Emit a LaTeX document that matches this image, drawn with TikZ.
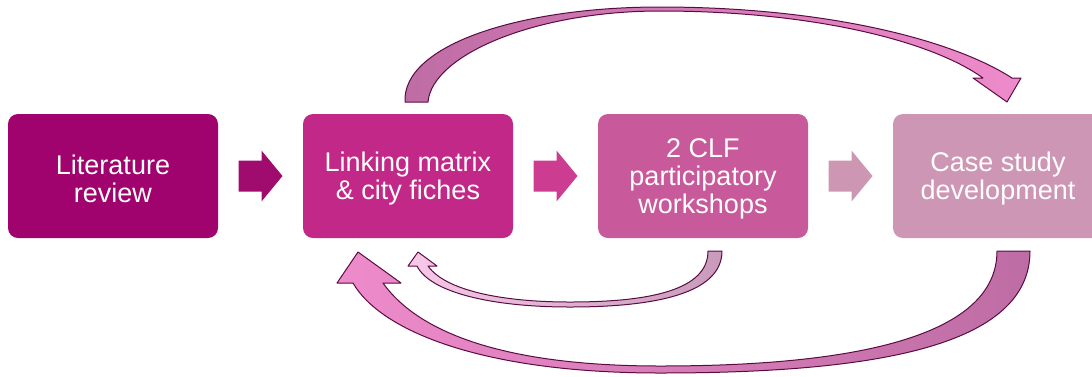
\documentclass[tikz,border=0pt]{standalone}
\usepackage{fontspec}
\setmainfont{Liberation Sans}
\usetikzlibrary{calc}

\definecolor{stepA}{HTML}{A0036E}
\definecolor{stepB}{HTML}{C12887}
\definecolor{stepC}{HTML}{C85A9B}
\definecolor{stepD}{HTML}{CD96B4}
\definecolor{arrA}{HTML}{A00C6E}
\definecolor{arrB}{HTML}{CC3C91}
\definecolor{arrC}{HTML}{CD97B4}
\definecolor{loopEdge}{HTML}{5A0B42}
\definecolor{loopDark}{HTML}{BE6DA4}
\definecolor{loopLight}{HTML}{EE8BCB}
\definecolor{loopGrey}{HTML}{C79BB9}
\definecolor{loopPale}{HTML}{F7C8E8}

\tikzset{
  stepbox/.style={rectangle, rounded corners=10pt, minimum width=210pt,
    minimum height=124pt, inner sep=0pt},
  steptext/.style={text=white, align=center, inner sep=0pt, yshift=-2.5pt,
    font=\fontsize{27}{28}\selectfont},
  loop/.style={draw=loopEdge, line width=1pt, line join=round},
  % block arrow centred on its position: shaft 31 wide, head 51 wide
  blockarrow/.pic={
    \fill (-22,-15.5) -- (1,-15.5) -- (1,-25.5) -- (22,0) -- (1,25.5)
      -- (1,15.5) -- (-22,15.5) -- cycle;
  }
}

\begin{document}
\begin{tikzpicture}[x=1pt, y=-1pt]
\useasboundingbox (0,0) rectangle (1092,376);

% process steps
\node[stepbox, fill=stepA, label={[steptext]center:Literature\\review}] (lit) at (113,176) {};
\node[stepbox, fill=stepB, label={[steptext]center:Linking matrix\\\& city fiches}] (link) at (408,176) {};
\node[stepbox, fill=stepC, label={[steptext]center:2 CLF\\participatory\\workshops}] (work) at (703,176) {};
\node[stepbox, fill=stepD, label={[steptext]center:Case study\\development}] (case) at (998,176) {};

% forward block arrows between steps
\coordinate (m1) at ($(lit.east)!0.5!(link.west)$);
\coordinate (m2) at ($(link.east)!0.5!(work.west)$);
\coordinate (m3) at ($(work.east)!0.5!(case.west)$);
\pic[fill=arrA] at (m1) {blockarrow};
\pic[fill=arrB] at (m2) {blockarrow};
\pic[fill=arrC] at (m3) {blockarrow};

% curved arrow over the top: linking matrix -> case study
\path[loop, left color=loopDark, right color=loopLight]
  (405,102) .. controls (402,45) and (520,7) .. (660,7)
  .. controls (820,7) and (950,38) .. (1012,78)
  -- (1021,78) -- (1007,102) -- (973,78) -- (983,78)
  .. controls (930,40) and (810,11) .. (660,11)
  .. controls (535,11) and (432,55) .. (428,102) -- cycle;

% small curved arrow below: workshops -> linking matrix
\path[loop, left color=loopPale, right color=loopGrey]
  (722,251) .. controls (722,292) and (660,307) .. (570,307)
  .. controls (490,307) and (430,292) .. (417,266)
  -- (408,266) -- (418,252) -- (437,266) -- (428,266)
  .. controls (445,290) and (500,302) .. (570,302)
  .. controls (650,302) and (708,290) .. (708,251) -- cycle;

% large curved arrow below: case study -> linking matrix
\path[loop, left color=loopLight, right color=loopDark]
  (1030,251) .. controls (1030,345) and (880,373) .. (660,373)
  .. controls (480,373) and (380,330) .. (353,283)
  -- (337,283) -- (358,252) -- (401,283) -- (383,283)
  .. controls (420,335) and (510,366) .. (660,366)
  .. controls (860,366) and (997,335) .. (997,251) -- cycle;
\end{tikzpicture}
\end{document}
